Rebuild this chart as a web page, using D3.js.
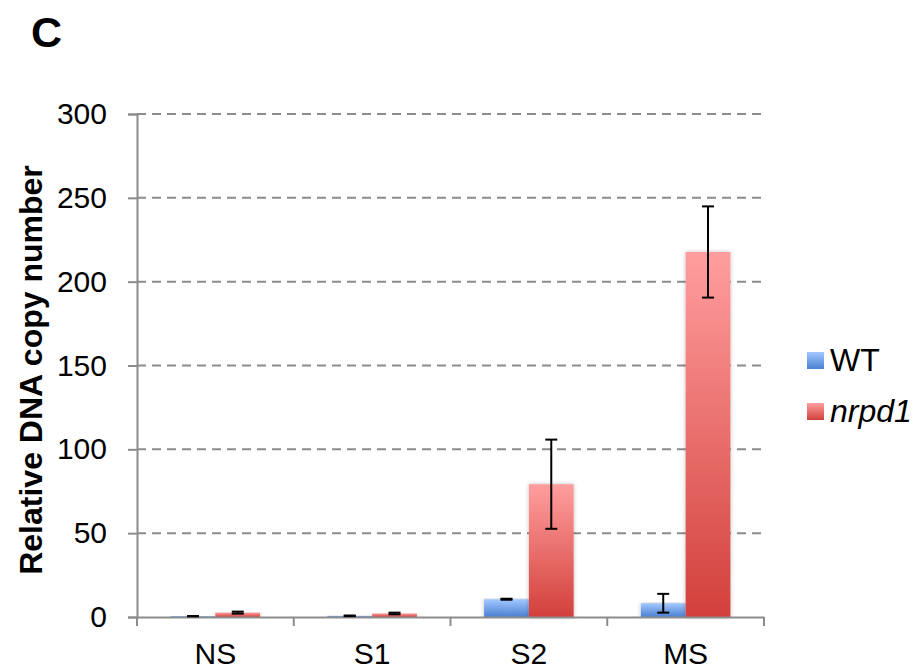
<!DOCTYPE html>
<html>
<head>
<meta charset="utf-8">
<script src="https://cdn.jsdelivr.net/npm/d3@7"></script>
<style>
body{margin:0;background:#fff;}
text{font-family:"Liberation Sans",Arial,sans-serif;}
</style>
</head>
<body>
<div id="chart"></div>
<script>
const width=920;
const height=671;
const margin={top:114,right:156,bottom:54,left:137};
const categories=["NS","S1","S2","MS"];
const seriesnames=["WT","nrpd1"];
const wtvalues=[0.5,0.7,10.6,8.2];
const wterrors=[0.1,0.2,0.3,5.6];
const nrpd1values=[2.6,2.1,79.2,217.7];
const nrpd1errors=[0.6,0.5,26.6,27.2];
const yticks=[0,50,100,150,200,250,300];

const svg=d3.select("#chart").append("svg")
    .attr("width",width).attr("height",height);
const defs=svg.append("defs");
const grads=[
    {id:"g-wt",top:"#a3c8ff",bottom:"#4a80d2"},
    {id:"g-nr",top:"#ff9e9e",bottom:"#d2403b"}
];
grads.forEach(g=>{
    const lg=defs.append("linearGradient").attr("id",g.id)
        .attr("x1",0).attr("y1",0).attr("x2",0).attr("y2",1);
    lg.append("stop").attr("offset","0%").attr("stop-color",g.top);
    lg.append("stop").attr("offset","100%").attr("stop-color",g.bottom);
});
const shadow=defs.append("filter").attr("id","shadow")
    .attr("x","-20%").attr("y","-5%").attr("width","140%").attr("height","110%");
shadow.append("feDropShadow").attr("dx",0).attr("dy",0).attr("stdDeviation",2)
    .attr("flood-color","#000").attr("flood-opacity",0.25);

const x=d3.scaleBand().domain(categories)
    .range([margin.left,width-margin.right]).paddingInner(0).paddingOuter(0);
const inner=d3.scaleBand().domain(seriesnames)
    .range([0,x.bandwidth()]).paddingInner(0).paddingOuter(0.75);
const y=d3.scaleLinear().domain([0,300]).range([height-margin.bottom,margin.top]);
const axiscolor="#8c8c8c";

// gridlines
svg.append("g").selectAll("line").data(yticks.filter(d=>d>0)).enter().append("line")
    .attr("x1",margin.left).attr("x2",width-margin.right)
    .attr("y1",d=>y(d)).attr("y2",d=>y(d))
    .attr("stroke",axiscolor).attr("stroke-width",2).attr("stroke-dasharray","9,6");

// y axis
const yaxis=svg.append("g").attr("transform",`translate(${margin.left},0)`)
    .call(d3.axisLeft(y).tickValues(yticks).tickSize(9).tickPadding(21));
yaxis.select(".domain").attr("stroke",axiscolor).attr("stroke-width",2);
yaxis.selectAll(".tick line").attr("stroke",axiscolor).attr("stroke-width",2);
yaxis.selectAll(".tick text").attr("font-size",30).attr("fill","#000")
    .style("font-family","'Liberation Sans',Arial,sans-serif");

const series=[
    {name:"WT",values:wtvalues,errors:wterrors,fill:"url(#g-wt)"},
    {name:"nrpd1",values:nrpd1values,errors:nrpd1errors,fill:"url(#g-nr)"}
];
series.forEach(s=>{
    const g=svg.append("g");
    g.selectAll("rect").data(categories).enter().append("rect")
        .attr("x",(c)=>x(c)+inner(s.name))
        .attr("width",inner.bandwidth())
        .attr("y",(c,i)=>y(s.values[i]))
        .attr("height",(c,i)=>y(0)-y(s.values[i]))
        .attr("fill",s.fill)
        .attr("filter","url(#shadow)");
});

// x axis
const xaxis=svg.append("g").attr("transform",`translate(0,${y(0)})`)
    .call(d3.axisBottom(x).tickSize(0).tickPadding(26));
xaxis.select(".domain").attr("stroke",axiscolor).attr("stroke-width",2);
xaxis.selectAll(".tick text").attr("font-size",30).attr("fill","#000")
    .style("font-family","'Liberation Sans',Arial,sans-serif");
const boundaries=categories.map(c=>x(c)).concat([x(categories[categories.length-1])+x.bandwidth()]);
svg.append("g").selectAll("line").data(boundaries).enter().append("line")
    .attr("x1",d=>d).attr("x2",d=>d)
    .attr("y1",y(0)).attr("y2",y(0)+9)
    .attr("stroke",axiscolor).attr("stroke-width",2);

// error bars
series.forEach(s=>{
    const g=svg.append("g");
    categories.forEach((c,i)=>{
        const cx=x(c)+inner(s.name)+inner.bandwidth()/2;
        const top=y(s.values[i]+s.errors[i]);
        const bot=y(s.values[i]-s.errors[i]);
        g.append("line").attr("x1",cx).attr("x2",cx).attr("y1",top).attr("y2",bot)
            .attr("stroke","#000").attr("stroke-width",2);
        [top,bot].forEach(yy=>{
            g.append("line").attr("x1",cx-6).attr("x2",cx+6).attr("y1",yy).attr("y2",yy)
                .attr("stroke","#000").attr("stroke-width",2);
        });
    });
});

// y title
svg.append("text")
    .attr("transform","translate(42,370) rotate(-90)")
    .attr("text-anchor","middle")
    .attr("font-size",32).attr("font-weight","bold")
    .text("Relative DNA copy number");

// panel letter
svg.append("text").attr("x",31).attr("y",47)
    .attr("font-size",43).attr("font-weight","bold").text("C");

// legend
const legend=svg.append("g").attr("transform","translate(807,0)");
series.forEach((s,i)=>{
    const ly=360+i*51;
    legend.append("rect").attr("x",0).attr("y",ly-8).attr("width",17).attr("height",17)
        .attr("fill",s.fill);
    legend.append("text").attr("x",23).attr("y",ly+11)
        .attr("font-size",32)
        .attr("font-style",s.name==="nrpd1"?"italic":"normal")
        .text(s.name);
});
</script>
</body>
</html>
